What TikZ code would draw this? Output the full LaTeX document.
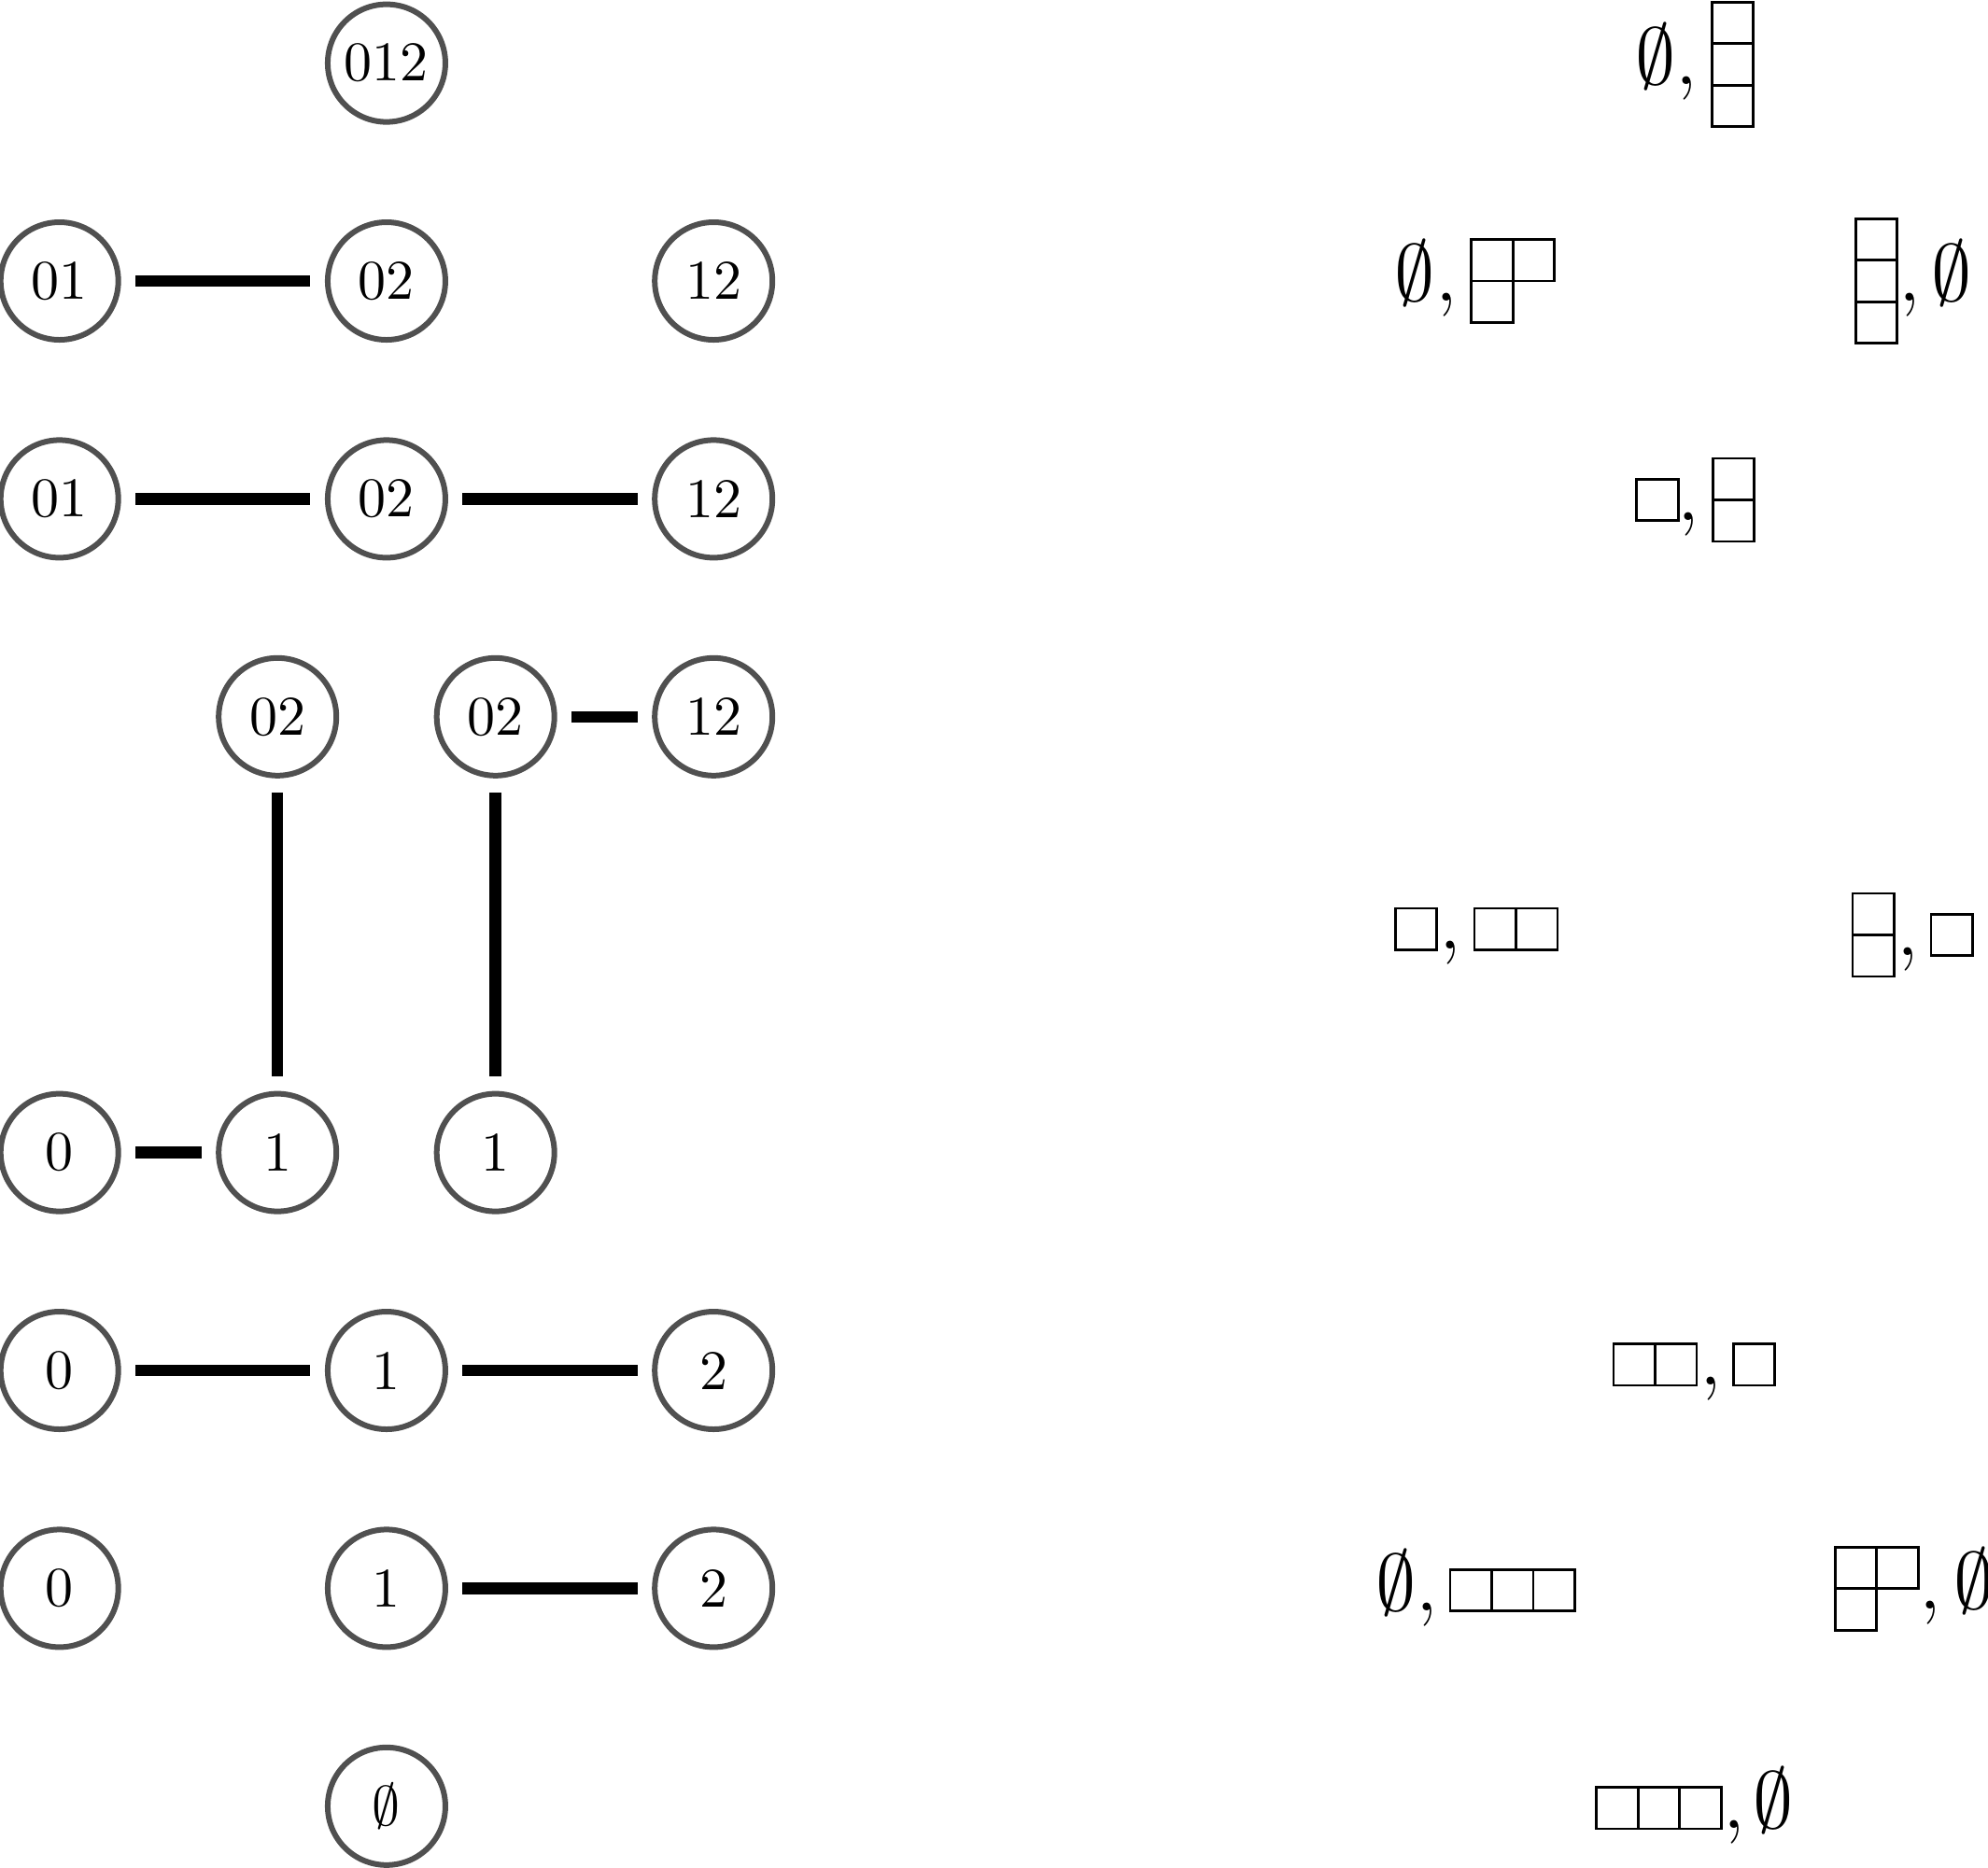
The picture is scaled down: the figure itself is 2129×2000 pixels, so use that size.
\documentclass[tikz,border=0pt]{standalone}
\definecolor{vgray}{RGB}{80,80,80}
\newcommand{\ydiag}[3]{\foreach \cc/\rr in {#3} {\draw[ybox] ({#1+\cc*44.5},{#2+\rr*44.5}) rectangle ++(44.5,44.5);}}
\tikzset{
  vtx/.style={circle, draw=vgray, line width=1pt, minimum size=21pt, inner sep=0pt, font=\fontsize{10}{12}\selectfont},
  conn/.style={line width=2.08pt, shorten <=2.58pt, shorten >=2.58pt},
  ybox/.style={line width=0.48pt},
  ylab/.style={inner sep=0pt, anchor=base, font=\fontsize{14.4}{17}\selectfont},
}
\begin{document}
\begin{tikzpicture}[x=0.166667pt, y=-0.166667pt]
\useasboundingbox (0,0) rectangle (2129,2000);
% graph nodes
\node[vtx] (a012) at (413.95,67.6) {012};
\node[vtx] (b01) at (63.7,301) {01};
\node[vtx] (b02) at (413.95,301) {02};
\node[vtx] (b12) at (764.2,301) {12};
\node[vtx] (c01) at (63.7,534.4) {01};
\node[vtx] (c02) at (413.95,534.4) {02};
\node[vtx] (c12) at (764.2,534.4) {12};
\node[vtx] (d02a) at (297.2,767.8) {02};
\node[vtx] (d02b) at (530.7,767.8) {02};
\node[vtx] (d12) at (764.2,767.8) {12};
\node[vtx] (e0) at (63.7,1234.6) {0};
\node[vtx] (e1a) at (297.2,1234.6) {1};
\node[vtx] (e1b) at (530.7,1234.6) {1};
\node[vtx] (f0) at (63.7,1468) {0};
\node[vtx] (f1) at (413.95,1468) {1};
\node[vtx] (f2) at (764.2,1468) {2};
\node[vtx] (g0) at (63.7,1701.4) {0};
\node[vtx] (g1) at (413.95,1701.4) {1};
\node[vtx] (g2) at (764.2,1701.4) {2};
\node[vtx] (h) at (413.95,1934.8) {$\emptyset$};
% connectors
\draw[conn] (b01) -- (b02);
\draw[conn] (c01) -- (c02);
\draw[conn] (c02) -- (c12);
\draw[conn] (d02b) -- (d12);
\draw[conn] (d02a) -- (e1a);
\draw[conn] (d02b) -- (e1b);
\draw[conn] (e0) -- (e1a);
\draw[conn] (f0) -- (f1);
\draw[conn] (f1) -- (f2);
\draw[conn] (g1) -- (g2);
% Young diagrams
\ydiag{1833.4}{2.25}{0/0,0/1,0/2}
\ydiag{1575.7}{256.5}{0/0,1/0,0/1}
\ydiag{1987.4}{234.25}{0/0,0/1,0/2}
\ydiag{1752.9}{513.25}{0/0}
\ydiag{1834.4}{491}{0/0,0/1}
\ydiag{1494.4}{973}{0/0}
\ydiag{1579}{973}{0/0,1/0}
\ydiag{1984}{957}{0/0,0/1}
\ydiag{2068}{979.25}{0/0}
\ydiag{1728}{1439.5}{0/0,1/0}
\ydiag{1856.4}{1439.5}{0/0}
\ydiag{1553}{1681.25}{0/0,1/0,2/0}
\ydiag{1965.4}{1657.2}{0/0,1/0,0/1}
\ydiag{1709.7}{1914.5}{0/0,1/0,2/0}
% empty sets
\node[ylab] (e1) at (1773.5,90.6) {$\emptyset$};
\node[ylab] (e2) at (1515.5,322.6) {$\emptyset$};
\node[ylab] (e3) at (2090.5,322.6) {$\emptyset$};
\node[ylab] (e4) at (1495.3,1725.1) {$\emptyset$};
\node[ylab] (e5) at (2114.5,1723.3) {$\emptyset$};
\node[ylab] (e6) at (1899,1958.3) {$\emptyset$};
% commas
\node[ylab] (k1) at (1806,90.6) {$,$};
\node[ylab] (k2) at (1549.5,322.6) {$,$};
\node[ylab] (k3) at (2045.5,322.6) {$,$};
\node[ylab] (k4) at (1808.5,557.1) {$,$};
\node[ylab] (k5) at (1553,1016.9) {$,$};
\node[ylab] (k6) at (2043.5,1023.1) {$,$};
\node[ylab] (k7) at (1832,1483.3) {$,$};
\node[ylab] (k8) at (1528,1725.1) {$,$};
\node[ylab] (k9) at (2067,1723.3) {$,$};
\node[ylab] (k10) at (1857,1958.3) {$,$};
\end{tikzpicture}
\end{document}
